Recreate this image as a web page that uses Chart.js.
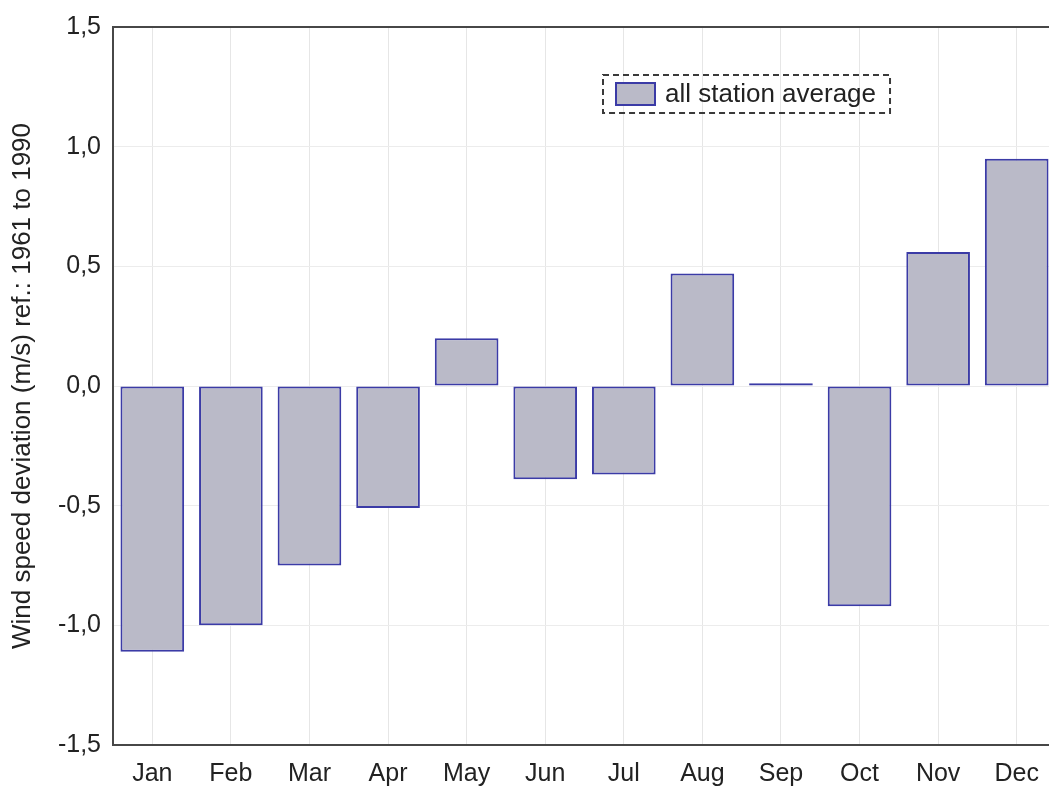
<!DOCTYPE html>
<html lang="en">
<head>
    <meta charset="UTF-8">
    <title>Wind speed deviation</title>
    <script src="https://cdn.jsdelivr.net/npm/chart.js"></script>
    <style>
        html, body {
            margin: 0;
            padding: 0;
            background: #ffffff;
            overflow: hidden;
        }
        .chart-container {
            width: 1060px;
            height: 787px;
        }
    </style>
</head>
<body>
    <div class="chart-container">
        <canvas id="windChart"></canvas>
    </div>

    <script>
        // dados
        const months = ['Jan', 'Feb', 'Mar', 'Apr', 'May', 'Jun', 'Jul', 'Aug', 'Sep', 'Oct', 'Nov', 'Dec'];
        const deviation = [-1.11, -1.0, -0.75, -0.51, 0.2, -0.39, -0.37, 0.47, 0.012, -0.92, 0.56, 0.95];
        const yTicks = [-1.5, -1.0, -0.5, 0.0, 0.5, 1.0, 1.5];
        const seriesLabel = 'all station average';
        const yTitle = 'Wind speed deviation (m/s) ref.: 1961 to 1990';

        const fontFamily = '"Liberation Sans", Arial, sans-serif';
        const axisColor = '#474747';

        // legenda com caixa tracejada dentro da área do gráfico
        const dashedLegend = {
            id: 'dashedLegend',
            afterDraw(chart) {
                const ctx = chart.ctx;
                const area = chart.chartArea;
                const ds = chart.data.datasets[0];
                ctx.save();
                ctx.font = '26px ' + fontFamily;
                const textW = ctx.measureText(ds.label).width;
                const x = area.left + 490;
                const y = area.top + 48;
                const w = 13 + 39 + 10 + textW + 14;
                const h = 38;
                ctx.setLineDash([6, 4]);
                ctx.lineWidth = 2;
                ctx.strokeStyle = '#3a3a3a';
                ctx.strokeRect(x, y, w, h);
                ctx.setLineDash([]);
                ctx.fillStyle = ds.backgroundColor;
                ctx.fillRect(x + 13, y + 8, 39, 22);
                ctx.strokeStyle = ds.borderColor;
                ctx.lineWidth = 2;
                ctx.strokeRect(x + 13, y + 8, 39, 22);
                ctx.fillStyle = '#222';
                ctx.textBaseline = 'middle';
                ctx.fillText(ds.label, x + 62, y + h / 2 + 1);
                ctx.restore();
            }
        };

        const ctx = document.getElementById('windChart').getContext('2d');
        const windChart = new Chart(ctx, {
            type: 'bar',
            data: {
                labels: months,
                datasets: [{
                    label: seriesLabel,
                    data: deviation,
                    backgroundColor: '#babac8',
                    borderColor: '#3b3ba6',
                    borderWidth: 2,
                    borderSkipped: false,
                    barPercentage: 0.81,
                    categoryPercentage: 1.0
                }]
            },
            options: {
                responsive: true,
                maintainAspectRatio: false,
                animation: false,
                layout: {
                    padding: { top: 24, right: 4, bottom: 0, left: 0 }
                },
                plugins: {
                    legend: { display: false },
                    tooltip: { enabled: false }
                },
                scales: {
                    x: {
                        offset: true,
                        grid: {
                            offset: false,
                            color: '#e6e6e6',
                            drawTicks: false
                        },
                        border: { color: axisColor, width: 2 },
                        ticks: {
                            color: '#222',
                            padding: 14,
                            font: { family: fontFamily, size: 25 }
                        },
                        afterFit(scale) { scale.height = 42; }
                    },
                    y: {
                        min: -1.5,
                        max: 1.5,
                        afterBuildTicks(scale) {
                            scale.ticks = yTicks.map(v => ({ value: v }));
                        },
                        grid: {
                            // a linha de 1,5 fecha o quadro em cima
                            color: c => c.tick && c.tick.value === 1.5 ? axisColor : '#ececec',
                            lineWidth: c => c.tick && c.tick.value === 1.5 ? 2 : 1,
                            drawTicks: false
                        },
                        border: { color: axisColor, width: 2 },
                        ticks: {
                            color: '#222',
                            padding: 12,
                            font: { family: fontFamily, size: 25 },
                            callback: v => v.toFixed(1).replace('.', ',')
                        },
                        title: {
                            display: true,
                            text: yTitle,
                            color: '#222',
                            padding: { top: 7, bottom: 0 },
                            font: { family: fontFamily, size: 26 }
                        },
                        afterFit(scale) { scale.width = 113; }
                    }
                }
            },
            plugins: [dashedLegend]
        });
    </script>
</body>
</html>
